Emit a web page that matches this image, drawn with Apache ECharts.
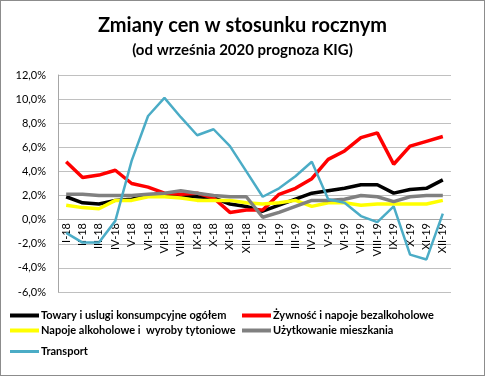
<!DOCTYPE html>
<html>
<head>
<meta charset="utf-8">
<script src="https://cdn.jsdelivr.net/npm/echarts@6/dist/echarts.min.js"></script>
<style>
  html, body { margin: 0; padding: 0; background: #fff; }
  #chart { width: 483px; height: 374px; border: 1px solid #8c8c8c; }
</style>
</head>
<body>
<div id="chart"></div>
<script>
const months = ['I-18', 'II-18', 'III-18', 'IV-18', 'V-18', 'VI-18', 'VII-18', 'VIII-18', 'IX-18', 'X-18', 'XI-18', 'XII-18',
  'I-19', 'II-19', 'III-19', 'IV-19', 'V-19', 'VI-19', 'VII-19', 'VIII-19', 'IX-19', 'X-19', 'XI-19', 'XII-19'];

const towary = [1.9, 1.4, 1.3, 1.6, 1.7, 2.0, 2.0, 2.0, 1.9, 1.8, 1.3, 1.1, 0.7, 1.2, 1.7, 2.2, 2.4, 2.6, 2.9, 2.9, 2.2, 2.5, 2.6, 3.3];
const zywnosc = [4.8, 3.5, 3.7, 4.1, 3.0, 2.7, 2.2, 2.1, 2.2, 1.8, 0.6, 0.8, 0.8, 2.1, 2.6, 3.4, 5.0, 5.7, 6.8, 7.2, 4.6, 6.1, 6.5, 6.9];
const napoje = [1.2, 1.0, 0.9, 1.6, 1.6, 1.9, 1.9, 1.8, 1.6, 1.6, 1.6, 1.4, 1.3, 1.4, 1.6, 1.1, 1.4, 1.4, 1.2, 1.3, 1.3, 1.3, 1.3, 1.6];
const mieszkanie = [2.1, 2.1, 2.0, 2.0, 2.0, 2.1, 2.2, 2.4, 2.2, 2.0, 1.9, 1.9, 0.2, 0.6, 1.1, 1.6, 1.6, 1.7, 2.0, 1.9, 1.5, 1.9, 2.0, 2.0];
const transport = [-1.1, -1.9, -1.9, -0.1, 4.9, 8.6, 10.1, 8.5, 7.0, 7.5, 6.1, 4.0, 1.9, 2.6, 3.6, 4.8, 1.7, 1.4, 0.3, -0.2, 1.1, -2.9, -3.3, 0.5];

const seriesNames = ['Towary i uslugi konsumpcyjne ogółem', 'Żywność i napoje bezalkoholowe',
  'Napoje alkoholowe i  wyroby tytoniowe', 'Użytkowanie mieszkania', 'Transport'];
const seriesData = [towary, zywnosc, napoje, mieszkanie, transport];
const colors = ['#000000', '#ff0000', '#ffff00', '#808080', '#4bacc6'];
const widths = [3.5, 3.5, 3.5, 3.5, 2.5];

const font = 'Lato, "Open Sans", sans-serif';
const legendText = { fontFamily: font, fontSize: 11, fontWeight: 'bold', color: '#000', padding: [0, 0, 0, -3] };

const chart = echarts.init(document.getElementById('chart'));
chart.setOption({
  animation: false,
  textStyle: { fontFamily: font },
  title: [
    {
      text: 'Zmiany cen w stosunku rocznym',
      left: 'center',
      top: 10,
      textStyle: { fontFamily: font, fontSize: 20, fontWeight: 'bold', color: '#000' }
    },
    {
      text: '(od września 2020 prognoza KIG)',
      left: 'center',
      top: 37,
      textStyle: { fontFamily: font, fontSize: 15, fontWeight: 'bold', color: '#000' }
    }
  ],
  legend: [
    {
      left: 9, top: 309, padding: 0, orient: 'vertical', itemGap: 4,
      itemWidth: 29, itemHeight: 4, icon: 'rect',
      data: [seriesNames[0], seriesNames[2]],
      textStyle: legendText
    },
    {
      left: 9, top: 345, padding: 0, itemWidth: 29, itemHeight: 3, icon: 'rect',
      data: [seriesNames[4]],
      textStyle: legendText
    },
    {
      left: 241, top: 309, padding: 0, orient: 'vertical', itemGap: 4,
      itemWidth: 29, itemHeight: 4, icon: 'rect',
      data: [seriesNames[1], seriesNames[3]],
      textStyle: legendText
    }
  ],
  grid: { left: 57, right: 33, top: 74, bottom: 83 },
  xAxis: {
    type: 'category',
    data: months,
    boundaryGap: true,
    position: 'bottom',
    offset: -73,
    axisLine: { onZero: false, lineStyle: { color: '#a6a6a6', width: 1 } },
    axisTick: { show: false },
    axisLabel: { rotate: 90, fontSize: 11, color: '#000', interval: 0, margin: 4, fontFamily: font }
  },
  yAxis: {
    type: 'value',
    min: -6,
    max: 12,
    interval: 2,
    axisLine: { show: true, lineStyle: { color: '#a6a6a6' } },
    axisTick: { show: false },
    splitLine: { lineStyle: { color: '#c0c0c0', width: 1 } },
    axisLabel: {
      fontSize: 11, color: '#000', margin: 12, fontFamily: font,
      formatter: v => v.toFixed(1).replace('.', ',') + '%'
    }
  },
  series: seriesNames.map((name, i) => ({
    name,
    type: 'line',
    data: seriesData[i],
    symbol: 'none',
    color: colors[i],
    lineStyle: { color: colors[i], width: widths[i] },
    itemStyle: { color: colors[i] }
  }))
});
</script>
</body>
</html>
